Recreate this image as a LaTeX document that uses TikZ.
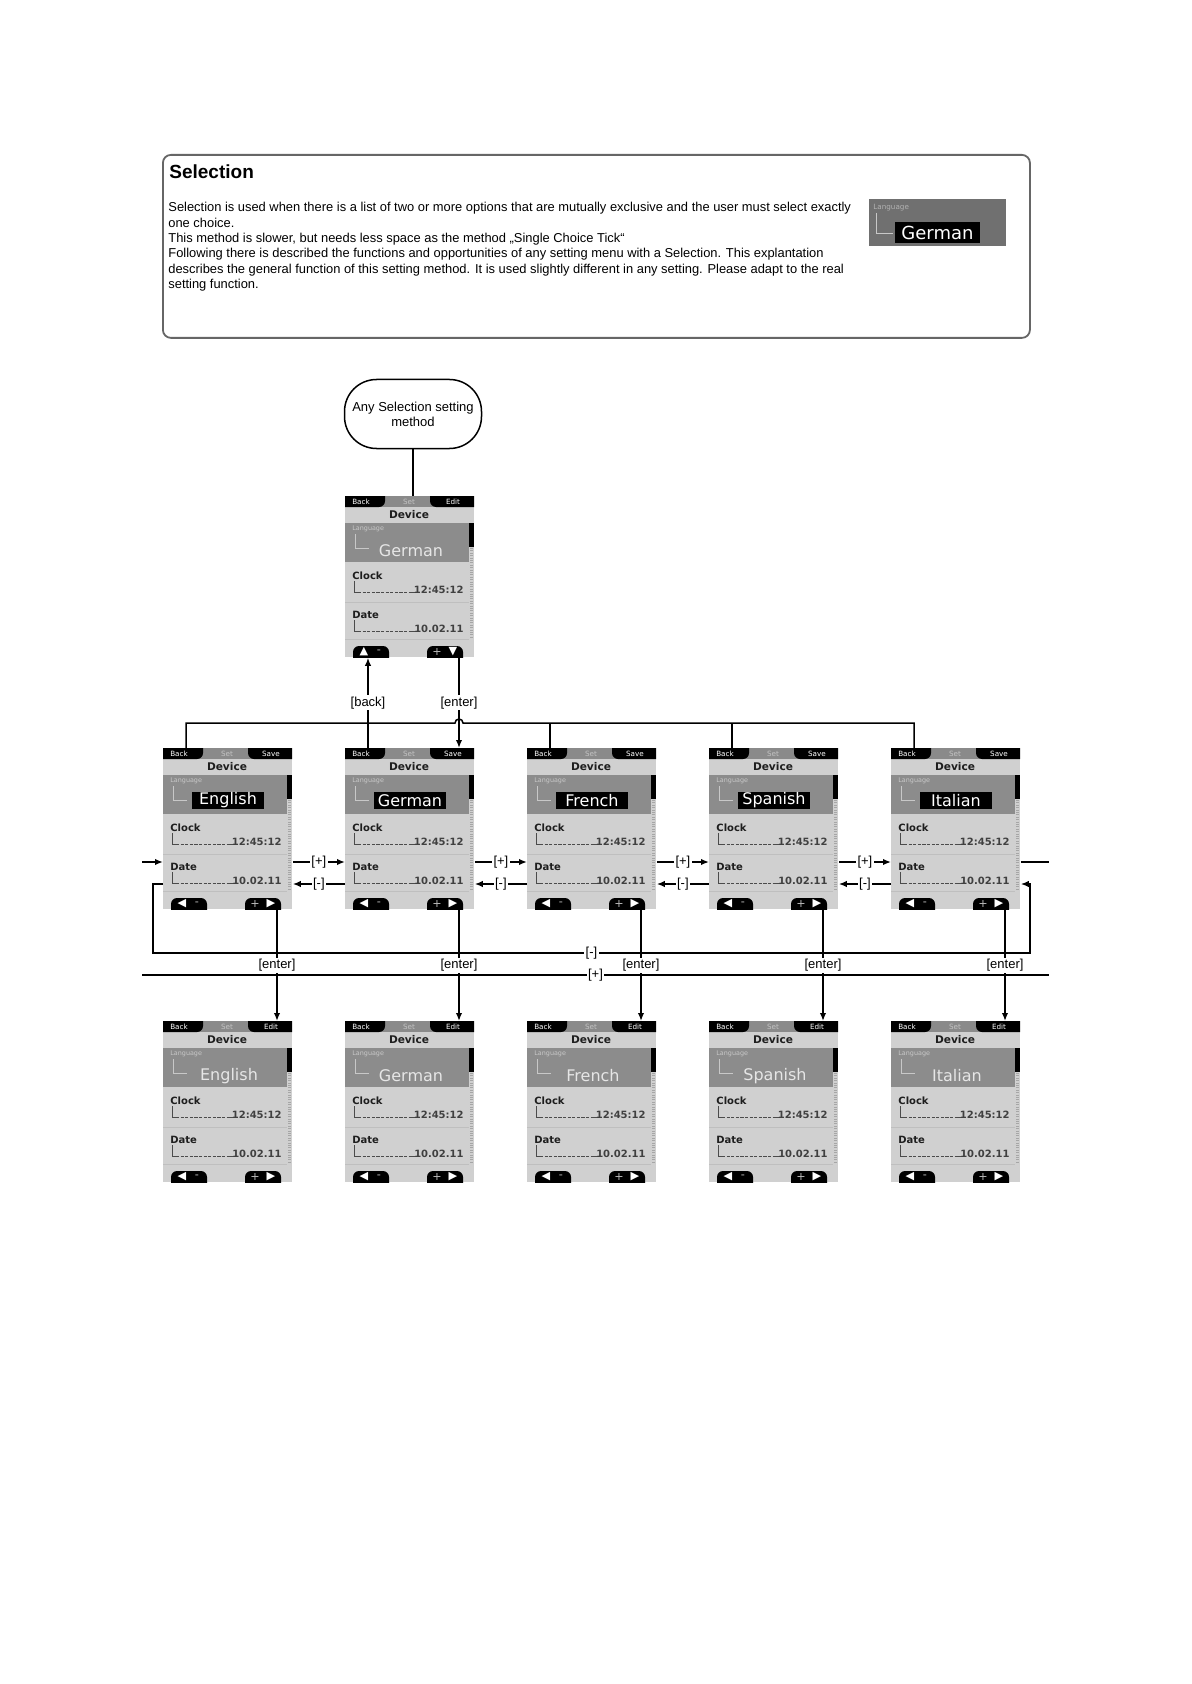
\documentclass[tikz,border=0pt]{standalone}
\usepackage{fontspec}
\setmainfont{Liberation Sans}
\newfontfamily\scrf{DejaVu Sans}
\usetikzlibrary{calc,arrows.meta}
\definecolor{scrbg}{HTML}{D0D0D0}
\definecolor{barmid}{HTML}{8A8A8A}
\definecolor{langbg}{HTML}{8C8C8C}
\definecolor{setc}{HTML}{C4C4C4}
\definecolor{lngc}{HTML}{C8C8C8}
\definecolor{unsc}{HTML}{E6E6E6}
\definecolor{btng}{HTML}{B8B8B8}
\definecolor{badgec}{HTML}{707070}
\definecolor{txtc}{HTML}{1E1E1E}
\tikzset{
  scrbox/.style={anchor=north west,minimum width=64.5pt,minimum height=80.5pt,inner sep=0,draw=none},
  tabt/.style={font=\scrf\fontsize{3.6}{3.6}\selectfont,text=white,inner sep=0},
  ttl/.style={font=\scrf\bfseries\fontsize{5.3}{5.3}\selectfont,text=txtc,inner sep=0},
  lng/.style={anchor=west,font=\scrf\fontsize{3.2}{3.2}\selectfont,text=lngc,inner sep=0},
  selv/.style={fill=black,text=white,font=\scrf\fontsize{8}{8}\selectfont,minimum width=36pt,minimum height=8.5pt,inner sep=0},
  unsv/.style={text=unsc,font=\scrf\fontsize{8}{8}\selectfont,inner sep=0},
  itm/.style={anchor=west,font=\scrf\bfseries\fontsize{5}{5}\selectfont,text=txtc,inner sep=0},
  num/.style={anchor=base east,font=\scrf\bfseries\fontsize{5}{5}\selectfont,text=txtc!85,inner sep=0},
  btn/.style={font=\scrf\fontsize{5.6}{5.6}\selectfont,text=white,inner sep=0},
  tree/.style={draw=lngc,line width=0.3pt},
  dtree/.style={draw=txtc!80,line width=0.3pt},
  sep/.style={draw=black!25,line width=0.3pt},
  trk/.style={draw=black!35,line width=1.4pt,dash pattern=on 0.4pt off 0.8pt},
  conn/.style={line width=0.75pt},
  arr/.style={conn,-{Latex[length=4pt,width=3.2pt]}},
  lbl/.style={font=\fontsize{6.5}{7}\selectfont,fill=white,inner sep=0.7pt},
}
% #1 name, #2 x, #3 y, #4 value, #5 right tab, #6 selected, #7 left glyph, #8 right glyph
\newcommand\scrn[8]{%
\begin{scope}[shift={(#2,#3)}]
  \begin{scope}
    \clip (0,0) rectangle (129,161);
    \fill[scrbg] (0,0) rectangle (129,161);
    \fill[barmid] (0,0) rectangle (129,11);
    \fill[black,rounded corners=3pt] (-10,-10) rectangle (40,11);
    \fill[black,rounded corners=3pt] (85,-10) rectangle (139,11);
    \fill[langbg] (0,27) rectangle (124,66);
    \fill[black] (124,27) rectangle (129,51);
    \draw[trk] (126.5,52) -- (126.5,143);
    \draw[sep] (0,106) -- (124,106);
    \draw[sep] (0,143) -- (124,143);
    \fill[black,rounded corners=3pt] (8,150) rectangle (44,172);
    \fill[black,rounded corners=3pt] (82,150) rectangle (118,172);
    \draw[tree] (10,38) -- (10,52) -- (24,52);
    \draw[dtree] (9.5,85) -- (9.5,96) -- (13,96);
    \draw[dtree,dash pattern=on 1.6pt off 0.7pt] (13,96) -- (64,96);
    \draw[dtree] (64,96) -- (73,96);
    \draw[dtree] (9.5,124) -- (9.5,135) -- (13,135);
    \draw[dtree,dash pattern=on 1.6pt off 0.7pt] (13,135) -- (64,135);
    \draw[dtree] (64,135) -- (73,135);
  \end{scope}
  \node[scrbox] (#1) at (0,0) {};
  \node[tabt] (#1-back) at (16,5.5) {Back};
  \node[tabt,text=setc] (#1-set) at (64,5.5) {Set};
  \node[tabt] (#1-tab) at (108,5.5) {#5};
  \node[ttl] (#1-dev) at (64,19) {Device};
  \node[lng] (#1-lng) at (7,33) {Language};
  \ifnum#6=1
    \node[selv] (#1-val) at (65,52.5) {#4};
  \else
    \node[unsv] (#1-val) at (66,55) {#4};
  \fi
  \node[itm] (#1-clk) at (7,80) {Clock};
  \node[num] (#1-clkv) at (119,97) {12:45:12};
  \node[itm] (#1-dat) at (7,119) {Date};
  \node[num] (#1-datv) at (119,136) {10.02.11};
  \node[btn] (#1-bl1) at (19,156) {#7};
  \node[btn,text=btng] (#1-bl2) at (34,156) {-};
  \node[btn,text=btng] (#1-br1) at (92,156) {+};
  \node[btn] (#1-br2) at (108,156) {#8};
\end{scope}}
\begin{document}
\begin{tikzpicture}[x=0.5pt,y=-0.5pt]
\fill[white] (0,0) rectangle (1191,1684);
\path[use as bounding box] (0,0) rectangle (1191,1684);

% header
\node[draw=black!60,line width=0.9pt,rounded corners=4pt,minimum width=433.5pt,minimum height=91.5pt,anchor=north west,inner sep=0] (hdr) at (162,154) {};
\node[anchor=base west,font=\bfseries\fontsize{9.5}{10}\selectfont,inner sep=0] (title) at (169,179) {Selection};
\node[anchor=north west,align=left,inner sep=0,font=\fontsize{6.45}{7.7}\selectfont] (body) at (168,202) {Selection is used when there is a list of two or more options that are mutually exclusive and the user must select exactly\\one choice.\\This method is slower, but needs less space as the method „Single Choice Tick“\\Following there is described the functions and opportunities of any setting menu with a Selection. This explantation\\describes the general function of this setting method. It is used slightly different in any setting. Please adapt to the real\\setting function.};
\node[fill=badgec,minimum width=68.5pt,minimum height=23.5pt,anchor=north west,inner sep=0] (badge) at (869,199) {};
\node[lng,text=black!30,font=\scrf\fontsize{3.6}{3.6}\selectfont] (badge-l) at (873,208) {Language};
\draw[tree] (876,213) -- (876,233) -- (893,233);
\node[fill=black,text=white,font=\scrf\fontsize{9}{9}\selectfont,minimum width=42.5pt,minimum height=10.5pt,inner sep=0] (badge-v) at (937.5,232.5) {German};

% start
\node[draw,conn,rounded corners=16pt,minimum width=68.5pt,minimum height=34.5pt,align=center,inner sep=0,font=\fontsize{6.5}{7.5}\selectfont] (start) at (413,414) {Any Selection setting\\method};

% screens
\scrn{top}{345}{496}{German}{Edit}{0}{▲}{▼}
\scrn{m1}{163}{748}{English}{Save}{1}{◀}{▶}
\scrn{m2}{345}{748}{German}{Save}{1}{◀}{▶}
\scrn{m3}{527}{748}{French}{Save}{1}{◀}{▶}
\scrn{m4}{709}{748}{Spanish}{Save}{1}{◀}{▶}
\scrn{m5}{891}{748}{Italian}{Save}{1}{◀}{▶}
\scrn{b1}{163}{1021}{English}{Edit}{0}{◀}{▶}
\scrn{b2}{345}{1021}{German}{Edit}{0}{◀}{▶}
\scrn{b3}{527}{1021}{French}{Edit}{0}{◀}{▶}
\scrn{b4}{709}{1021}{Spanish}{Edit}{0}{◀}{▶}
\scrn{b5}{891}{1021}{Italian}{Edit}{0}{◀}{▶}

% connectors
\draw[conn] (start.south) -- (start.south |- top.north);
\coordinate (busY) at (0,723);
\draw[conn] ($(m1.north west)+(23,0)$) -- ($(m1.north west |- busY)+(23,0)$) -- ($(top.north west |- busY)+(110,0)$) arc[start angle=180,end angle=0,radius=2pt] -- ($(m5.north west |- busY)+(23,0)$) -- ($(m5.north west)+(23,0)$);
\draw[conn] ($(m3.north west)+(23,0)$) -- ($(m3.north west |- busY)+(23,0)$);
\draw[conn] ($(m4.north west)+(23,0)$) -- ($(m4.north west |- busY)+(23,0)$);
\draw[arr] ($(m2.north west)+(23,0)$) -- node[lbl]{[back]} ($(top.south west)+(23,0)$);
\draw[arr] ($(top.south west)+(114,0)$) -- node[lbl]{[enter]} ($(m2.north west)+(114,0)$);

\foreach \a/\b in {m1/m2,m2/m3,m3/m4,m4/m5}{
  \draw[arr] ($(\a.north east)+(0,114)$) -- node[lbl]{[+]} ($(\b.north west)+(0,114)$);
  \draw[arr] ($(\b.north west)+(0,136)$) -- node[lbl]{[-]} ($(\a.north east)+(0,136)$);
}
\coordinate (inL) at (142,862);
\coordinate (outR) at (1049,862);
\draw[arr] (inL) -- ($(m1.north west)+(0,114)$);
\draw[conn] ($(m5.north east)+(0,114)$) -- (outR);

\coordinate (lmA) at (153,953);
\coordinate (lmB) at (1030,953);
\draw[arr] ($(m1.north west)+(0,136)$) -| (lmA) -- node[lbl]{[-]} (lmB) |- ($(m5.north east)+(0,136)$);
\coordinate (lpA) at (142,975);
\coordinate (lpB) at (1049,975);
\draw[conn] (lpA) -- node[lbl]{[+]} (lpB);

\foreach \i in {1,...,5}{
  \draw[arr] ($(m\i.south west)+(114,0)$) -- node[lbl]{[enter]} ($(b\i.north west)+(114,0)$);
}
\end{tikzpicture}
\end{document}
